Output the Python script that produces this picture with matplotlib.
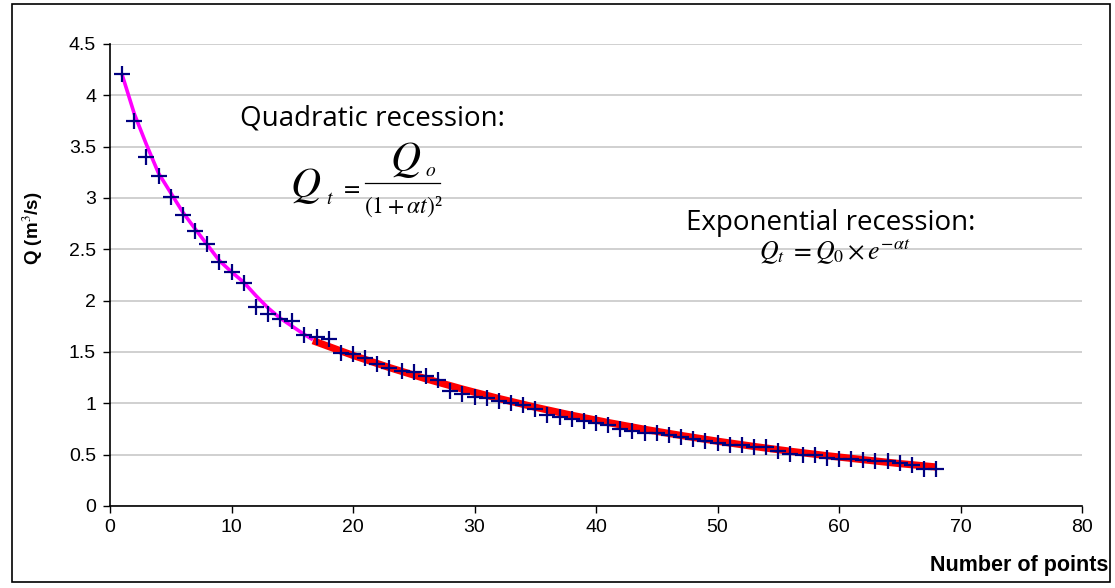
import matplotlib
matplotlib.use("Agg")
import matplotlib.pyplot as plt
from matplotlib.patches import Rectangle
from matplotlib.lines import Line2D

# ---- data ----
points_n = list(range(1, 69))
points_q = [4.21, 3.75, 3.40, 3.21, 3.01, 2.83, 2.68, 2.55, 2.38, 2.28,
            2.17, 1.94, 1.87, 1.82, 1.80, 1.67, 1.645, 1.63, 1.49, 1.48,
            1.44, 1.38, 1.34, 1.315, 1.31, 1.27, 1.23, 1.12, 1.09, 1.065,
            1.05, 1.02, 1.00, 0.98, 0.94, 0.89, 0.87, 0.845, 0.83, 0.81,
            0.79, 0.75, 0.73, 0.71, 0.71, 0.69, 0.67, 0.65, 0.635, 0.61,
            0.59, 0.59, 0.57, 0.57, 0.54, 0.505, 0.495, 0.495, 0.47, 0.455,
            0.455, 0.445, 0.44, 0.44, 0.42, 0.40, 0.36, 0.36]

quad_x = [1, 2, 3, 4, 5, 6, 7, 8, 9, 10, 11, 12, 13, 14, 15, 16, 16.7]
quad_q = [4.20, 3.82, 3.52, 3.24, 3.05, 2.86, 2.70, 2.545, 2.39, 2.28,
          2.18, 2.05, 1.93, 1.83, 1.75, 1.67, 1.62]

exp_x = [16.7, 17, 20, 23, 26, 29, 32, 35, 38, 41, 44, 47, 50, 53, 56, 59, 62, 65, 68]
exp_q = [1.61, 1.597, 1.467, 1.348, 1.239, 1.139, 1.047, 0.962, 0.884, 0.813,
         0.747, 0.687, 0.631, 0.580, 0.533, 0.490, 0.451, 0.413, 0.380]

x_ticks = [0, 10, 20, 30, 40, 50, 60, 70, 80]
y_ticks = [0, 0.5, 1, 1.5, 2, 2.5, 3, 3.5, 4, 4.5]
y_tick_labels = ["0", "0.5", "1", "1.5", "2", "2.5", "3", "3.5", "4", "4.5"]

W, H = 1115, 588
plt.rcParams['font.family'] = ['Liberation Sans', 'DejaVu Sans']
plt.rcParams['mathtext.fontset'] = 'stix'

fig = plt.figure(figsize=(W / 100, H / 100), dpi=100)
fig.patch.set_facecolor('white')


def fx(x):
    return x / W


def fy(y):
    return 1 - y / H


ax = fig.add_axes([fx(110), fy(506), fx(1082) - fx(110), fy(44) - fy(506)])
ax.set_xlim(0, 80)
ax.set_ylim(0, 4.5)
ax.set_xticks(x_ticks)
ax.set_yticks(y_ticks)
ax.set_yticklabels(y_tick_labels)
ax.tick_params(axis='both', direction='out', length=5, width=1, labelsize=14, colors='black')
ax.tick_params(axis='y', pad=5)
ax.tick_params(axis='x', pad=4)
for s in ['top', 'right']:
    ax.spines[s].set_visible(False)
for s in ['left', 'bottom']:
    ax.spines[s].set_linewidth(1.2)
    ax.spines[s].set_zorder(5)
ax.yaxis.grid(True, color='#c8c8c8', linewidth=1.2)
ax.set_axisbelow(True)

ax.plot(quad_x, quad_q, color='#ff00ff', linewidth=2.6, zorder=2, solid_capstyle='butt')
ax.plot(exp_x, exp_q, color='#ff0000', linewidth=5.2, zorder=2, solid_capstyle='butt')
ax.plot(points_n, points_q, linestyle='none', marker='+', markersize=12,
        markeredgewidth=1.6, color='#000080', zorder=3)

# axis titles
fig.text(fx(33), fy(228), "Q (m$^{3}$/s)", rotation=90, ha='center', va='center',
         fontsize=13.5, fontweight='bold')
fig.text(fx(1108), fy(566), "Number of points", ha='right', va='center',
         fontsize=15.5, fontweight='bold')

# annotations
fig.text(fx(240), fy(118), "Quadratic recession:", ha='left', va='center',
         fontsize=20, family=['Open Sans', 'DejaVu Sans'])
fig.text(fx(686), fy(223), "Exponential recession:", ha='left', va='center',
         fontsize=20, family=['Open Sans', 'DejaVu Sans'])

# quadratic formula
fig.text(fx(306), fy(186), r"$Q$", ha='center', va='center', fontsize=30)
fig.text(fx(330), fy(199), r"$t$", ha='center', va='center', fontsize=14)
fig.text(fx(350), fy(188), r"$=$", ha='center', va='center', fontsize=17)
fig.text(fx(406), fy(160), r"$Q$", ha='center', va='center', fontsize=30)
fig.text(fx(431), fy(171), r"$o$", ha='center', va='center', fontsize=14)
fig.lines.append(Line2D([fx(365), fx(440)], [fy(183), fy(183)], color='black',
                        linewidth=0.9, transform=fig.transFigure))
fig.text(fx(403), fy(207), r"$(1+\alpha t)$" + "\u00b2", ha='center', va='center',
         fontsize=17, family=['Liberation Serif', 'DejaVu Serif'])

# exponential formula
fig.text(fx(835), fy(252), r"$Q_t\ =Q_0\times e^{-\alpha t}$", ha='center', va='center',
         fontsize=18.5)

# outer border
fig.patches.append(Rectangle((fx(12), fy(582)), fx(1110) - fx(12), fy(4) - fy(582),
                             transform=fig.transFigure, fill=False, edgecolor='black',
                             linewidth=1.2))

fig.savefig("out.png", dpi=100)
